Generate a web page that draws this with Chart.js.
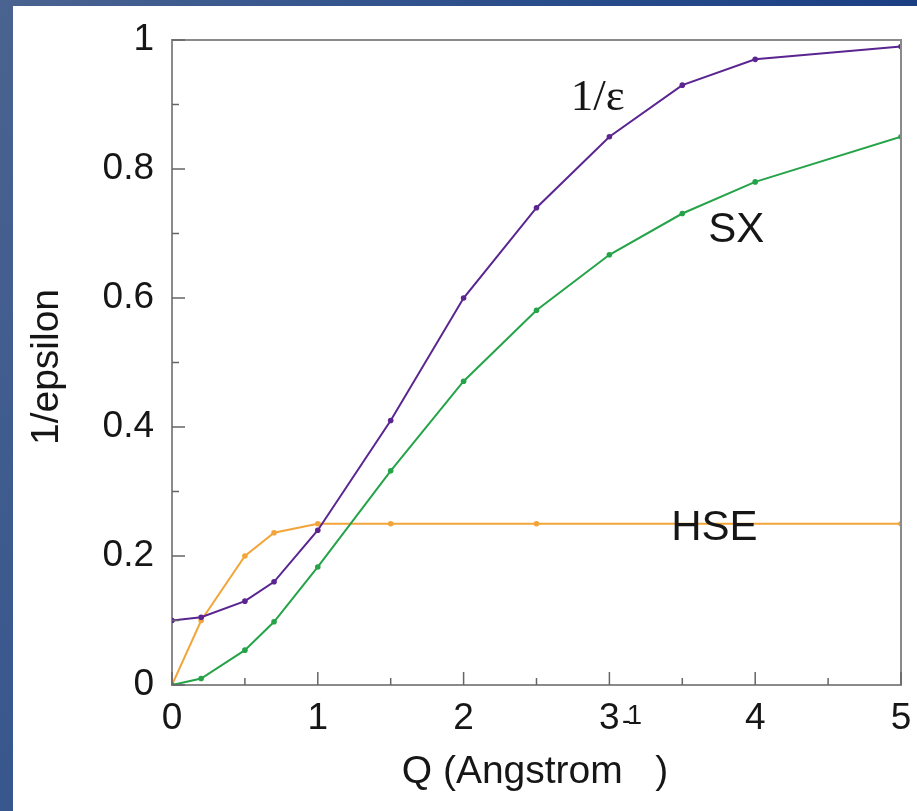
<!DOCTYPE html>
<html>
<head>
<meta charset="utf-8">
<script src="https://cdn.jsdelivr.net/npm/chart.js@4.4.0/dist/chart.umd.min.js"></script>
<style>
  html, body { margin: 0; padding: 0; }
  body { width: 917px; height: 811px; overflow: hidden; position: relative;
         background: linear-gradient(110deg, #4a6390 0%, #2c4f8c 40%, #10347d 100%); }
  #panel { position: absolute; left: 13px; top: 6px; width: 904px; height: 805px; background: #fff; }
  #wrap { position: absolute; left: 0; top: 0; width: 917px; height: 811px; }
</style>
</head>
<body>
<div id="panel"></div>
<div id="wrap"><canvas id="c" width="917" height="811"></canvas></div>
<script>
// ---- data ----
const qFull = [0, 0.2, 0.5, 0.7, 1, 1.5, 2, 2.5, 3, 3.5, 4, 5];
const invEps = [0.10, 0.105, 0.13, 0.16, 0.24, 0.41, 0.60, 0.74, 0.85, 0.93, 0.97, 0.99];
const sxVals = [0, 0.01, 0.054, 0.098, 0.183, 0.332, 0.471, 0.581, 0.667, 0.731, 0.78, 0.85];
const qHse = [0, 0.2, 0.5, 0.7, 1, 1.5, 2.5, 5];
const hseVals = [0, 0.10, 0.20, 0.236, 0.25, 0.25, 0.25, 0.25];
const xMajorTicks = [0, 1, 2, 3, 4, 5];
const xMinorTicks = [0.5, 1.5, 2.5, 3.5, 4.5];
const yMajorTicks = [0, 0.2, 0.4, 0.6, 0.8, 1];
const yMinorTicks = [0.1, 0.3, 0.5, 0.7, 0.9];
const xTitle = "Q (Angstrom   )";
const yTitle = "1/epsilon";
const seriesLabels = ["1/\u03B5", "SX", "HSE"];

const PURPLE = '#5a2590', GREEN = '#25a348', ORANGE = '#f2a53a';
const TXT = '#161616', AXIS = '#8a8a8a';
const SANS = '"Liberation Sans", Arial, sans-serif';

const pts = (xs, ys) => xs.map((x, i) => ({ x: x, y: ys[i] }));

const decor = {
  id: 'decor',
  afterDatasetsDraw(chart) {
    const ctx = chart.ctx, xs = chart.scales.x, ys = chart.scales.y, a = chart.chartArea;
    ctx.save();
    // frame (top & right)
    ctx.strokeStyle = AXIS; ctx.lineWidth = 2;
    ctx.beginPath();
    ctx.moveTo(a.left, a.top); ctx.lineTo(a.right, a.top); ctx.lineTo(a.right, a.bottom);
    ctx.stroke();
    // inward ticks
    ctx.strokeStyle = '#666'; ctx.lineWidth = 1.5;
    ctx.beginPath();
    xMajorTicks.forEach(v => { const p = xs.getPixelForValue(v); ctx.moveTo(p, a.bottom); ctx.lineTo(p, a.bottom - 13); });
    xMinorTicks.forEach(v => { const p = xs.getPixelForValue(v); ctx.moveTo(p, a.bottom); ctx.lineTo(p, a.bottom - 7); });
    yMajorTicks.forEach(v => { const p = ys.getPixelForValue(v); ctx.moveTo(a.left, p); ctx.lineTo(a.left + 13, p); });
    yMinorTicks.forEach(v => { const p = ys.getPixelForValue(v); ctx.moveTo(a.left, p); ctx.lineTo(a.left + 7, p); });
    ctx.stroke();
    // series labels
    ctx.fillStyle = TXT; ctx.textAlign = 'center'; ctx.textBaseline = 'middle';
    ctx.font = '45px "Liberation Serif", "Times New Roman", serif';
    ctx.fillText(seriesLabels[0], xs.getPixelForValue(2.92), ys.getPixelForValue(0.91));
    ctx.font = '42px ' + SANS;
    ctx.fillText(seriesLabels[1], xs.getPixelForValue(3.87), ys.getPixelForValue(0.704));
    ctx.fillText(seriesLabels[2], xs.getPixelForValue(3.72), ys.getPixelForValue(0.242));
    // axis titles
    ctx.font = '39px ' + SANS;
    ctx.fillText(xTitle, 535, 772);
    ctx.save();
    ctx.translate(47, 367); ctx.rotate(-Math.PI / 2);
    ctx.fillText(yTitle, 0, 0);
    ctx.restore();
    // stray superscript "-1" next to the 3 tick
    ctx.font = '27px ' + SANS;
    ctx.textBaseline = 'alphabetic';
    const x3 = xs.getPixelForValue(3);
    ctx.fillText('-', x3 + 17, 729);
    ctx.fillText('1', x3 + 25, 724);
    ctx.restore();
  }
};

new Chart(document.getElementById('c'), {
  type: 'line',
  data: {
    datasets: [
      { label: seriesLabels[0], data: pts(qFull, invEps), borderColor: PURPLE, backgroundColor: PURPLE },
      { label: seriesLabels[1], data: pts(qFull, sxVals), borderColor: GREEN, backgroundColor: GREEN },
      { label: seriesLabels[2], data: pts(qHse, hseVals), borderColor: ORANGE, backgroundColor: ORANGE }
    ]
  },
  options: {
    responsive: false,
    animation: false,
    layout: { padding: { top: 40, right: 16, left: 0, bottom: 0 } },
    elements: {
      line: { borderWidth: 2, tension: 0, fill: false },
      point: { radius: 2.8, borderWidth: 0, hoverRadius: 2.8 }
    },
    plugins: { legend: { display: false }, tooltip: { enabled: false }, title: { display: false } },
    scales: {
      x: {
        type: 'linear', min: 0, max: 5,
        afterFit(s) { s.height = 126; s.paddingLeft = 0; s.paddingRight = 0; },
        afterBuildTicks(s) { s.ticks = xMajorTicks.map(v => ({ value: v })); },
        grid: { display: false, drawTicks: false },
        border: { display: true, color: AXIS, width: 2 },
        ticks: { padding: 12, color: TXT, font: { family: SANS, size: 37 }, maxRotation: 0, autoSkip: false,
                 callback: v => String(v) }
      },
      y: {
        type: 'linear', min: 0, max: 1,
        afterFit(s) { s.width = 172; s.paddingTop = 0; s.paddingBottom = 0; },
        afterBuildTicks(s) { s.ticks = yMajorTicks.map(v => ({ value: v })); },
        grid: { display: false, drawTicks: false },
        border: { display: true, color: AXIS, width: 2 },
        ticks: { padding: 18, color: TXT, font: { family: SANS, size: 37 }, autoSkip: false,
                 callback: v => String(Math.round(v * 10) / 10) }
      }
    }
  },
  plugins: [decor]
});
</script>
</body>
</html>
